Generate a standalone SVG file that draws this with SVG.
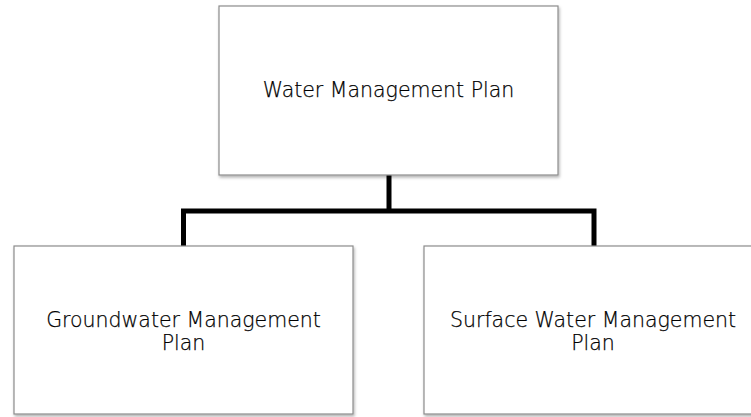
<svg xmlns="http://www.w3.org/2000/svg" width="751" height="417" viewBox="0 0 751 417">
<defs>
<filter id="sh" x="-5%" y="-5%" width="112%" height="115%">
<feDropShadow dx="1" dy="2" stdDeviation="1.5" flood-color="#000" flood-opacity="0.3"/>
</filter>
<style>
.box{fill:#fff;stroke:#8c8c8c;stroke-width:1.2;filter:url(#sh)}
.lbl{font-family:"DejaVu Sans",sans-serif;font-size:20.5px;font-weight:300;fill:#000;stroke:#000;stroke-width:0.25;text-anchor:middle}
.con{fill:none;stroke:#000;stroke-width:5;stroke-linejoin:miter}
</style>
</defs>
<rect width="751" height="417" fill="#fff"/>
<g id="connectors">
<path class="con" d="M389,175 V211"/>
<path class="con" d="M183.5,246 V211 H594 V246"/>
</g>
<g id="node-water">
<rect class="box" x="219" y="6" width="339" height="169"/>
<text class="lbl" x="388.5" y="97">Water Management Plan</text>
</g>
<g id="node-groundwater">
<rect class="box" x="14" y="246" width="339" height="168"/>
<text class="lbl" x="183.5" y="327">Groundwater Management</text>
<text class="lbl" x="183.5" y="350">Plan</text>
</g>
<g id="node-surface">
<rect class="box" x="424" y="246" width="339" height="168"/>
<text class="lbl" x="593" y="327">Surface Water Management</text>
<text class="lbl" x="593" y="350">Plan</text>
</g>
</svg>
